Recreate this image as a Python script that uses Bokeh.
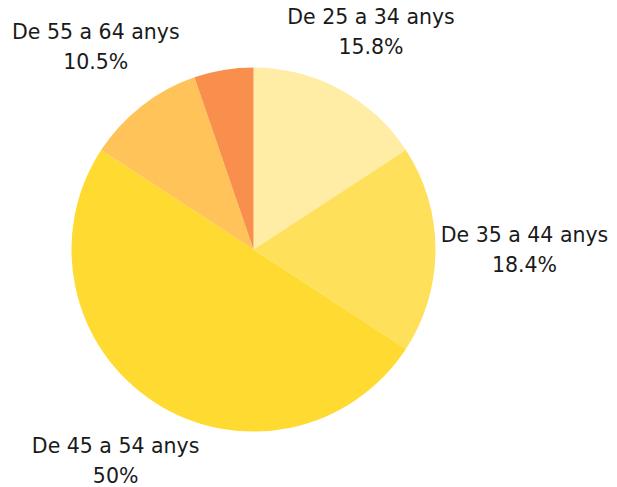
import math
from bokeh.plotting import figure
from bokeh.models import ColumnDataSource
from bokeh.core.properties import value
from bokeh.embed import file_html
from bokeh.resources import INLINE

# ---- data ----
categories = ["De 25 a 34 anys", "De 35 a 44 anys", "De 45 a 54 anys", "De 55 a 64 anys", "De 65 anys o més"]
counts = [6, 7, 19, 4, 2]
show_label = [True, True, True, True, False]
colors = ["#FFEDA6", "#FFE05A", "#FFDA30", "#FFC35A", "#F98F4C"]

W, H = 617, 487
cx, cy, R = 253, 238, 182

total = sum(counts)
starts, ends, pcts = [], [], []
acc = 0.0
for c in counts:
    frac = c / total
    starts.append(math.pi / 2 - acc * 2 * math.pi)
    acc += frac
    ends.append(math.pi / 2 - acc * 2 * math.pi)
    p_ = round(frac * 100, 1)
    pcts.append(("%.1f" % p_).rstrip("0").rstrip(".") + "%")

src = ColumnDataSource(dict(x=[cx] * len(counts), y=[cy] * len(counts),
                            start=starts, end=ends, color=colors))

p = figure(width=W, height=H, x_range=(0, W), y_range=(0, H),
           output_backend="svg", toolbar_location=None,
           x_axis_location=None, y_axis_location=None,
           min_border=0, outline_line_color=None)
p.grid.visible = False
p.background_fill_color = "white"
p.border_fill_color = "white"

p.wedge(x="x", y="y", radius=R, start_angle="start", end_angle="end",
        direction="clock", fill_color="color", line_color=None, source=src)

# label placement: outside the pie along mid-angle
hw, hh = 88, 25
lx, ly, names, pt = [], [], [], []
for i in range(len(counts)):
    if not show_label[i]:
        continue
    mid = (starts[i] + ends[i]) / 2
    ux, uy = math.cos(mid), math.sin(mid)
    d = R + 1 + hw * abs(ux) + hh * abs(uy)
    lx.append(cx + d * ux)
    ly.append(cy + d * uy)
    names.append(categories[i])
    pt.append(pcts[i])

lsrc = ColumnDataSource(dict(x=lx, y1=[v + 15 for v in ly], y2=[v - 15 for v in ly],
                             name=names, pct=pt))
common = dict(text_font=value("DejaVu Sans"), text_font_size="20.5px",
              text_color="#1a1a1a", text_align="center", text_baseline="middle",
              source=lsrc)
p.text(x="x", y="y1", text="name", **common)
p.text(x="x", y="y2", text="pct", **common)

open("out.html", "w").write(file_html(p, INLINE))
